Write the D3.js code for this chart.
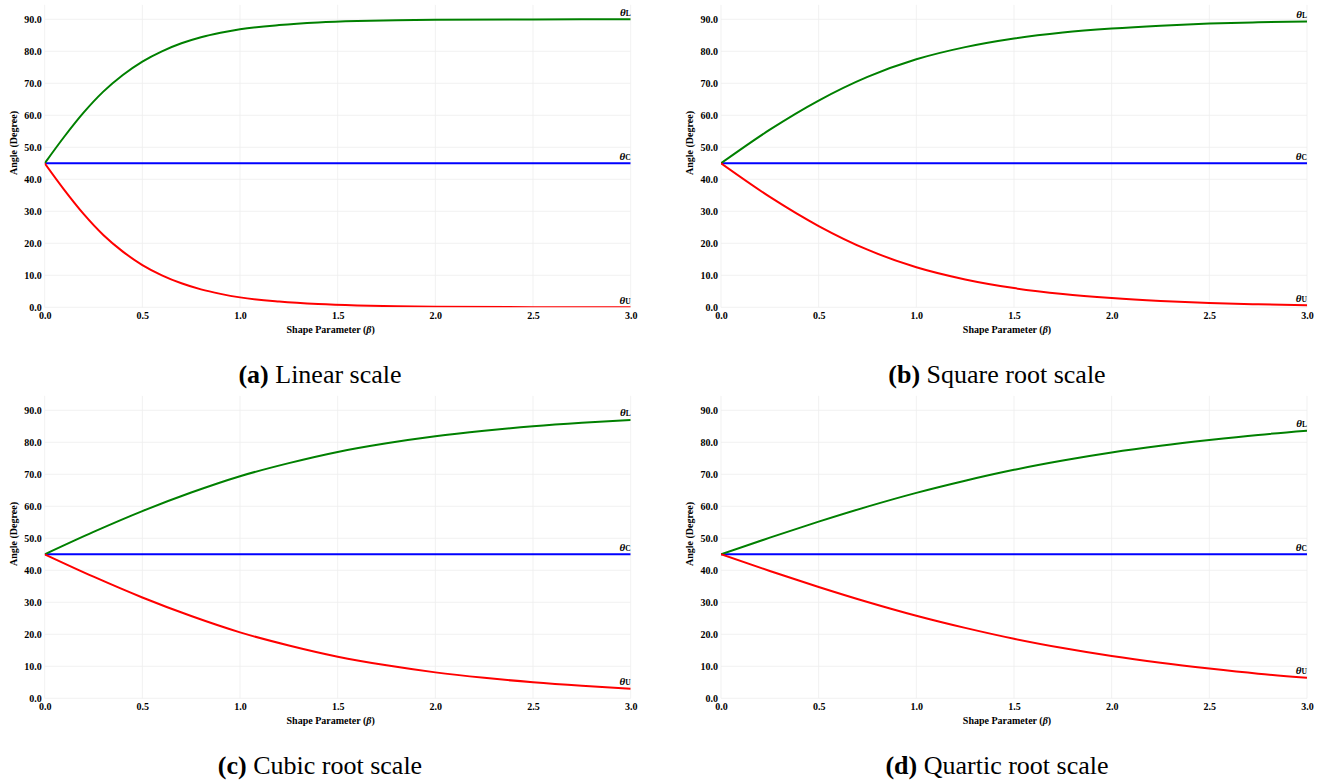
<!DOCTYPE html>
<html>
<head>
<meta charset="utf-8">
<script src="https://cdn.jsdelivr.net/npm/d3@7"></script>
<style>
  html, body { margin: 0; padding: 0; background: #fff; }
  svg { display: block; }
</style>
</head>
<body>
<svg id="chart" width="1327" height="780"></svg>
<script>
// ---------------- data ----------------
const betaA = [0, 0.1, 0.2, 0.3, 0.4, 0.5, 0.6, 0.7, 0.8, 0.9, 1.0, 1.2, 1.4, 1.6, 1.8, 2.0, 2.5, 3.0];
const thetaL_A = [45, 53.3, 60.9, 67.4, 72.6, 76.8, 80.0, 82.5, 84.4, 85.8, 86.9, 88.2, 89.0, 89.45, 89.7, 89.83, 89.97, 90.0];
const thetaU_A = [45, 36.7, 29.1, 22.6, 17.4, 13.2, 10.0, 7.5, 5.6, 4.2, 3.1, 1.8, 1.0, 0.55, 0.3, 0.17, 0.03, 0.0];

const betaBCD = [0, 0.25, 0.5, 0.75, 1.0, 1.25, 1.5, 1.75, 2.0, 2.25, 2.5, 2.75, 3.0];
const thetaL_B = [45, 55.5, 64.6, 72.0, 77.5, 81.3, 84.0, 85.85, 87.1, 88.0, 88.65, 89.05, 89.35];
const thetaU_B = [45, 34.5, 25.4, 18.0, 12.5, 8.7, 6.0, 4.15, 2.9, 2.0, 1.35, 0.95, 0.65];
const thetaL_C = [45, 52.0, 58.5, 64.3, 69.4, 73.5, 77.0, 79.7, 81.9, 83.6, 85.0, 86.1, 87.0];
const thetaU_C = [45, 38.0, 31.5, 25.7, 20.6, 16.5, 13.0, 10.3, 8.1, 6.4, 5.0, 3.9, 3.0];
const thetaL_D = [45, 50.2, 55.2, 59.9, 64.2, 68.0, 71.4, 74.3, 76.8, 78.9, 80.7, 82.3, 83.6];
const thetaU_D = [45, 39.8, 34.8, 30.1, 25.8, 22.0, 18.6, 15.7, 13.2, 11.1, 9.3, 7.7, 6.4];

const betaC = [0, 3.0];
const thetaC = [45, 45];

const xTicks = [0, 0.5, 1.0, 1.5, 2.0, 2.5, 3.0];
const yTicks = [0, 10, 20, 30, 40, 50, 60, 70, 80, 90];

const captionLetters = ["(a)", "(b)", "(c)", "(d)"];
const captionTexts = ["Linear scale", "Square root scale", "Cubic root scale", "Quartic root scale"];

const panelsData = [
  { beta: betaA,   L: thetaL_A, U: thetaU_A },
  { beta: betaBCD, L: thetaL_B, U: thetaU_B },
  { beta: betaBCD, L: thetaL_C, U: thetaU_C },
  { beta: betaBCD, L: thetaL_D, U: thetaU_D }
];

// ---------------- layout ----------------
const svg = d3.select("#chart");
svg.append("rect").attr("width", 1327).attr("height", 780).attr("fill", "#fff");

const plotW = 586;
const plotH = 302.4;
const lefts = [44.7, 721];
const bottoms = [307.3, 698.3];
const captionCX = [320, 997];
const serif = "'Liberation Serif', 'Times New Roman', Times, serif";

panelsData.forEach((pd, i) => {
  const col = i % 2, row = Math.floor(i / 2);
  const x0 = lefts[col], yb = bottoms[row], yTop = yb - plotH;
  const g = svg.append("g").attr("transform", `translate(${x0},${yTop})`);

  const x = d3.scaleLinear().domain([0, 3]).range([0, plotW]);
  const y = d3.scaleLinear().domain([0, 94.5]).range([plotH, 0]);

  // grid
  g.append("g").selectAll("line").data(yTicks).join("line")
    .attr("x1", 0).attr("x2", plotW)
    .attr("y1", d => y(d)).attr("y2", d => y(d))
    .attr("stroke", "#ededed").attr("stroke-width", 0.8);
  g.append("g").selectAll("line").data(xTicks).join("line")
    .attr("x1", d => x(d)).attr("x2", d => x(d))
    .attr("y1", 0).attr("y2", plotH)
    .attr("stroke", "#ededed").attr("stroke-width", 0.8);

  // axes (labels only)
  const xAxis = g.append("g").attr("transform", `translate(0,${plotH})`)
    .call(d3.axisBottom(x).tickValues(xTicks).tickFormat(d3.format(".1f")).tickSize(0).tickPadding(5));
  const yAxis = g.append("g")
    .call(d3.axisLeft(y).tickValues(yTicks).tickFormat(d3.format(".1f")).tickSize(0).tickPadding(3));
  [xAxis, yAxis].forEach(a => {
    a.select(".domain").remove();
    a.selectAll("text").attr("font-family", serif).attr("font-weight", "bold")
      .attr("font-size", 10).attr("fill", "#000");
  });

  // axis titles
  g.append("text")
    .attr("x", plotW / 2 - 7).attr("y", plotH + 25.5)
    .attr("text-anchor", "middle").attr("font-family", serif).attr("font-weight", "bold")
    .attr("font-size", 10).attr("fill", "#000")
    .call(t => {
      t.append("tspan").text("Shape Parameter (");
      t.append("tspan").attr("font-style", "italic").text("β");
      t.append("tspan").text(")");
    });
  g.append("text")
    .attr("transform", `translate(-28,${143 - 307.3 + plotH}) rotate(-90)`)
    .attr("text-anchor", "middle").attr("font-family", serif).attr("font-weight", "bold")
    .attr("font-size", 10).attr("fill", "#000")
    .text("Angle (Degree)");

  // clip
  const clipId = "clip" + i;
  g.append("clipPath").attr("id", clipId).append("rect")
    .attr("x", 0).attr("y", 0).attr("width", plotW).attr("height", plotH);

  const line = d3.line().x(d => x(d[0])).y(d => y(d[1])).curve(d3.curveMonotoneX);
  const lines = g.append("g").attr("clip-path", `url(#${clipId})`);

  lines.append("path").datum(betaC.map((b, k) => [b, thetaC[k]]))
    .attr("d", line).attr("fill", "none").attr("stroke", "#0000ff").attr("stroke-width", 2);
  lines.append("path").datum(pd.beta.map((b, k) => [b, pd.L[k]]))
    .attr("d", line).attr("fill", "none").attr("stroke", "#008000").attr("stroke-width", 2);
  lines.append("path").datum(pd.beta.map((b, k) => [b, pd.U[k]]))
    .attr("d", line).attr("fill", "none").attr("stroke", "#ff0000").attr("stroke-width", 2);

  // line labels
  const labels = [
    { v: pd.L[pd.L.length - 1], s: "L" },
    { v: thetaC[thetaC.length - 1], s: "C" },
    { v: pd.U[pd.U.length - 1], s: "U" }
  ];
  labels.forEach(lb => {
    g.append("text")
      .attr("x", plotW).attr("y", y(lb.v) - 3.7)
      .attr("text-anchor", "end").attr("font-family", serif).attr("fill", "#000")
      .call(t => {
        t.append("tspan").attr("font-style", "italic").attr("font-weight", "bold").attr("font-size", 11).text("θ");
        t.append("tspan").attr("font-weight", "bold").attr("font-size", 7.5).text(lb.s);
      });
  });

  // caption
  svg.append("text")
    .attr("x", captionCX[col]).attr("y", 383 + row * 391)
    .attr("text-anchor", "middle").attr("font-family", serif).attr("font-size", 26).attr("fill", "#000")
    .call(t => {
      t.append("tspan").attr("font-weight", "bold").text(captionLetters[i]);
      t.append("tspan").text(" " + captionTexts[i]);
    });
});
</script>
</body>
</html>
